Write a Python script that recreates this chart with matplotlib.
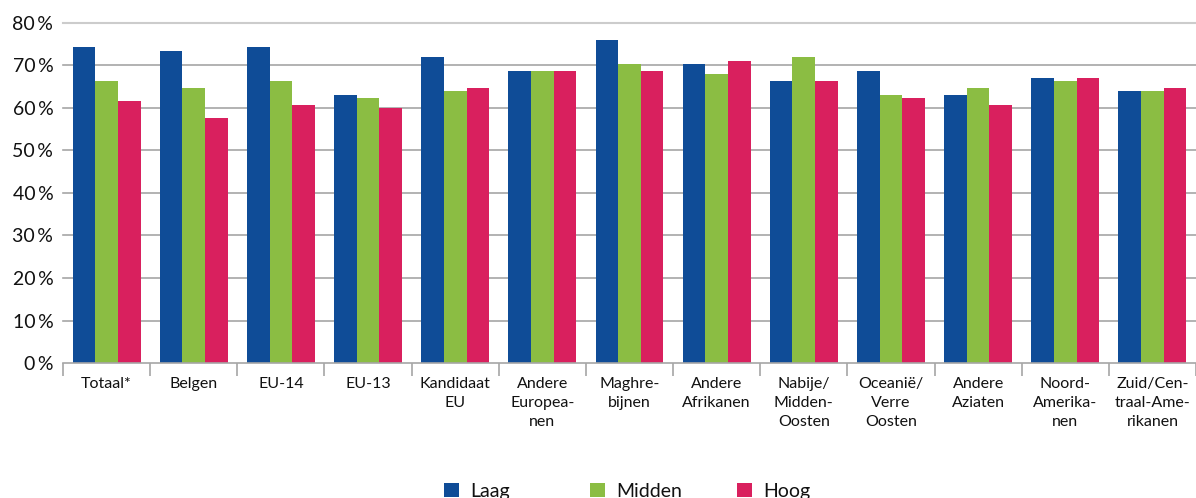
import matplotlib
matplotlib.use("Agg")
import matplotlib.pyplot as plt
from matplotlib.patches import Patch
import numpy as np

plt.rcParams['font.family'] = ['Lato', 'DejaVu Sans']

categories = ["Totaal*", "Belgen", "EU-14", "EU-13", "Kandidaat\nEU", "Andere\nEuropea-\nnen",
              "Maghre-\nbijnen", "Andere\nAfrikanen", "Nabije/\nMidden-\nOosten", "Oceanië/\nVerre\nOosten",
              "Andere\nAziaten", "Noord-\nAmerika-\nnen", "Zuid/Cen-\ntraal-Ame-\nrikanen"]
laag = [74.4, 73.4, 74.4, 63.1, 72.0, 68.7, 76.0, 70.4, 66.4, 68.7, 63.1, 67.1, 64.0]
midden = [66.4, 64.7, 66.4, 62.4, 64.0, 68.7, 70.4, 68.0, 72.0, 63.1, 64.7, 66.4, 64.0]
hoog = [61.6, 57.6, 60.7, 60.0, 64.7, 68.7, 68.7, 71.1, 66.4, 62.4, 60.7, 67.1, 64.7]
series_names = ["Laag", "Midden", "Hoog"]
colors = ["#0F4C97", "#8BBD43", "#D9205E"]
yticks = [0, 10, 20, 30, 40, 50, 60, 70, 80]

fig = plt.figure(figsize=(11.96, 4.98), dpi=100)
ax = fig.add_axes([63/1196, 1 - 363/498, 1 - 63/1196, (363 - 23)/498])

x = np.arange(len(categories))
w = 0.26
for i, (vals, c) in enumerate(zip([laag, midden, hoog], colors)):
    ax.bar(x + (i - 1) * w, vals, width=w, color=c, zorder=3, linewidth=0)

ax.set_xlim(-0.5, len(categories) - 0.5)
ax.set_ylim(0, 80)

for t in yticks[1:]:
    ax.axhline(t, color="#cccccc" if t == 80 else "#a6a6a6", lw=1.5 if t == 80 else 1.2,
               zorder=1, clip_on=False)

ax.set_yticks(yticks)
ax.set_yticklabels([f"{t}\u2009%" for t in yticks], fontsize=14, color="#111111")
ax.tick_params(axis='y', length=0, pad=7)

ax.set_xticks(np.arange(len(categories) + 1) - 0.5)
ax.set_xticklabels([])
ax.tick_params(axis='x', which='major', length=9, color="#a6a6a6", width=1.2)
ax.set_xticks(x, minor=True)
ax.set_xticklabels(categories, minor=True, fontsize=11.5, color="#111111", linespacing=1.45)
ax.tick_params(axis='x', which='minor', length=0, pad=10)

for s in ["left", "right", "top"]:
    ax.spines[s].set_visible(False)
ax.spines["bottom"].set_color("#a6a6a6")
ax.spines["bottom"].set_linewidth(1.2)
ax.spines["bottom"].set_zorder(4)

leg_x = [449/1196, 595/1196, 742/1196]
for name, c, lx in zip(series_names, colors, leg_x):
    fig.legend([Patch(facecolor=c, edgecolor='none')], [name], loc='center left',
               bbox_to_anchor=(lx - 0.004, 1 - 491/498), frameon=False, fontsize=14,
               handlelength=0.75, handleheight=0.75, handletextpad=0.6, borderpad=0,
               borderaxespad=0, labelcolor="#111111")

fig.savefig("out.png", dpi=100)
